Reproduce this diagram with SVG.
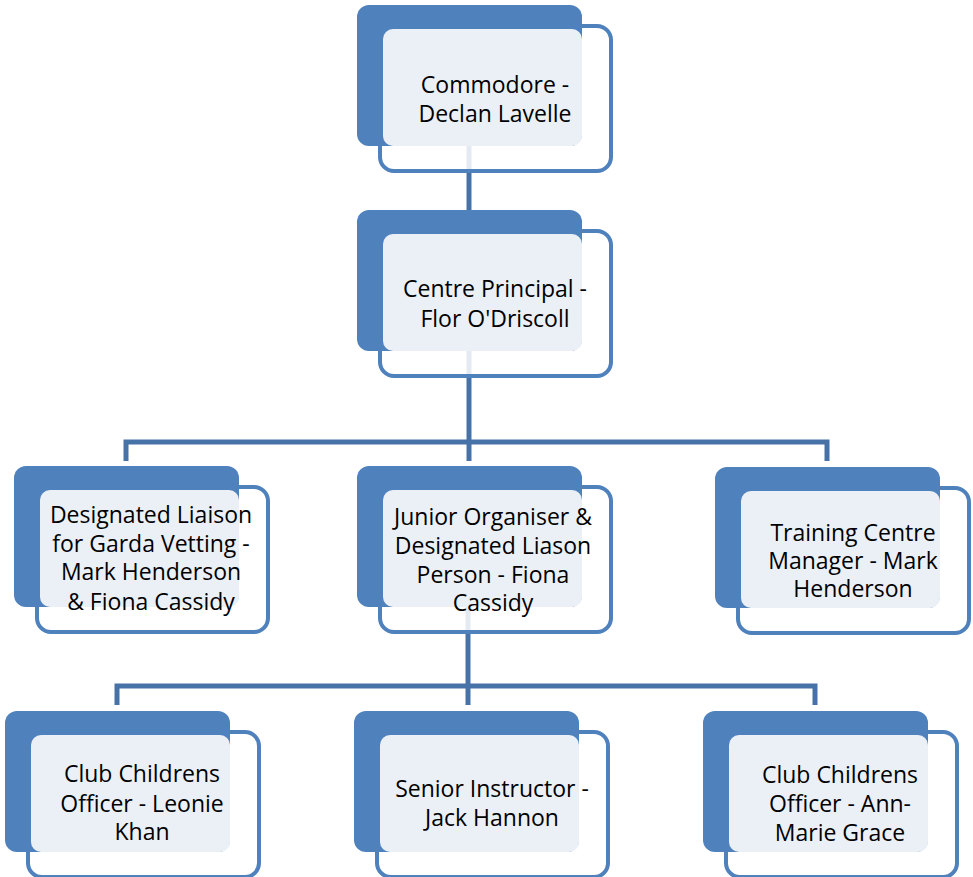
<svg xmlns="http://www.w3.org/2000/svg" width="973" height="877" viewBox="0 0 973 877">
<style>
.front{fill:#ffffff;fill-opacity:0.85;stroke:#4F81BD;stroke-width:4}
.back{fill:#4F81BD}
.light{fill:#EBF0F7}
.conn{fill:none;stroke:#4672A8;stroke-width:5}
text{font-family:"Open Sans","Noto Sans",sans-serif;font-size:23px;fill:#000;text-anchor:middle}
</style>
<rect width="973" height="877" fill="#ffffff"/>
<g id="connectors">
<path class="conn" d="M469 146 V210"/>
<path class="conn" d="M469 351 V461"/>
<path class="conn" d="M126 461 V442 H827 V461"/>
<path class="conn" d="M468 607 V705"/>
<path class="conn" d="M117 705 V686 H815 V705"/>
</g>
<g id="n1">
<rect class="front" x="380" y="26" width="231" height="145" rx="14"/>
<rect class="back" x="357" y="5" width="225" height="141" rx="12"/>
<rect class="light" x="383" y="29" width="199" height="117" rx="10"/>
<text x="495" y="93">Commodore -</text>
<text x="495" y="122">Declan Lavelle</text>
</g>
<g id="n2">
<rect class="front" x="380" y="231" width="231" height="145" rx="14"/>
<rect class="back" x="357" y="210" width="225" height="141" rx="12"/>
<rect class="light" x="383" y="234" width="199" height="117" rx="10"/>
<text x="495" y="297">Centre Principal -</text>
<text x="495" y="327">Flor O'Driscoll</text>
</g>
<g id="n3l">
<rect class="front" x="37" y="487" width="231" height="145" rx="14"/>
<rect class="back" x="14" y="466" width="225" height="141" rx="12"/>
<rect class="light" x="40" y="490" width="199" height="117" rx="10"/>
<text x="151" y="523">Designated Liaison</text>
<text x="151" y="552">for Garda Vetting -</text>
<text x="151" y="580">Mark Henderson</text>
<text x="151" y="610">&amp; Fiona Cassidy</text>
</g>
<g id="n3m">
<rect class="front" x="380" y="487" width="231" height="145" rx="14"/>
<rect class="back" x="357" y="466" width="225" height="141" rx="12"/>
<rect class="light" x="383" y="490" width="199" height="117" rx="10"/>
<text x="493" y="525">Junior Organiser &amp;</text>
<text x="493" y="554">Designated Liason</text>
<text x="493" y="583">Person - Fiona</text>
<text x="493" y="611">Cassidy</text>
</g>
<g id="n3r">
<rect class="front" x="738" y="488" width="231" height="145" rx="14"/>
<rect class="back" x="715" y="467" width="225" height="141" rx="12"/>
<rect class="light" x="741" y="491" width="199" height="117" rx="10"/>
<text x="853" y="541">Training Centre</text>
<text x="853" y="569">Manager - Mark</text>
<text x="853" y="597">Henderson</text>
</g>
<g id="n4l">
<rect class="front" x="28" y="732" width="231" height="145" rx="14"/>
<rect class="back" x="5" y="711" width="225" height="141" rx="12"/>
<rect class="light" x="31" y="735" width="199" height="117" rx="10"/>
<text x="142" y="782">Club Childrens</text>
<text x="142" y="812">Officer - Leonie</text>
<text x="142" y="840">Khan</text>
</g>
<g id="n4m">
<rect class="front" x="377" y="732" width="231" height="145" rx="14"/>
<rect class="back" x="354" y="711" width="225" height="141" rx="12"/>
<rect class="light" x="380" y="735" width="199" height="117" rx="10"/>
<text x="492" y="797">Senior Instructor -</text>
<text x="492" y="826">Jack Hannon</text>
</g>
<g id="n4r">
<rect class="front" x="726" y="732" width="231" height="145" rx="14"/>
<rect class="back" x="703" y="711" width="225" height="141" rx="12"/>
<rect class="light" x="729" y="735" width="199" height="117" rx="10"/>
<text x="840" y="783">Club Childrens</text>
<text x="840" y="812">Officer - Ann-</text>
<text x="840" y="841">Marie Grace</text>
</g>
</svg>
